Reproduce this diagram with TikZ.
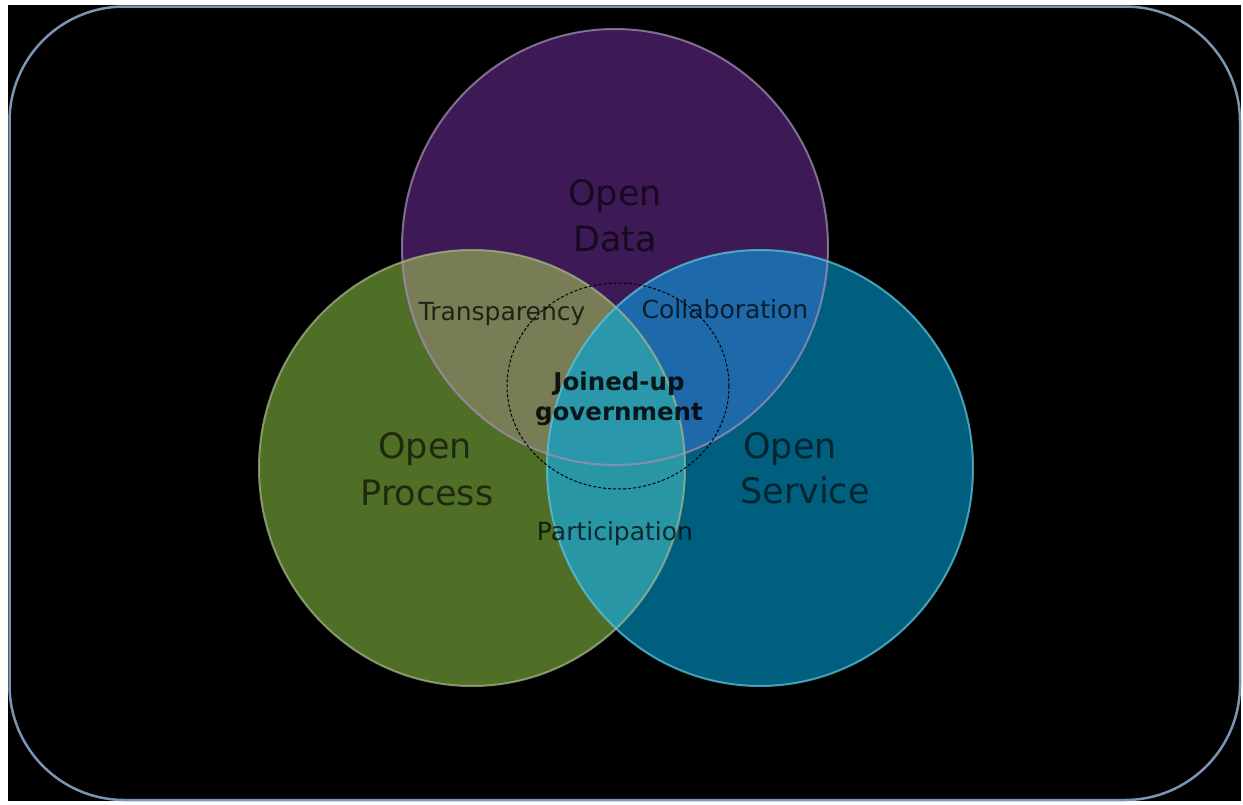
\documentclass[tikz,border=0pt]{standalone}
\usepackage{fontspec}
\setmainfont{DejaVu Sans}
\definecolor{framec}{HTML}{7A94B4}
\definecolor{purplec}{HTML}{3D1A55}
\definecolor{greenc}{HTML}{4F6E26}
\definecolor{bluec}{HTML}{005F7F}
\definecolor{pgc}{HTML}{787D55}
\definecolor{pbc}{HTML}{1E69AA}
\definecolor{gbc}{HTML}{2896A5}
\definecolor{pgbc}{HTML}{2A98AA}
\definecolor{pedge}{HTML}{A08EB4}
\definecolor{gedge}{HTML}{A4B488}
\definecolor{bedge}{HTML}{5EC4DA}
\tikzset{
  bigtext/.style={font=\fontsize{35}{46}\selectfont, text=black, text opacity=0.62, inner sep=0pt, anchor=base},
  smalltext/.style={font=\fontsize{25}{30}\selectfont, text=black, text opacity=0.72, inner sep=0pt, anchor=base},
  boldtext/.style={font=\fontsize{24.5}{30}\selectfont\bfseries, text=black, text opacity=0.85, inner sep=0pt, anchor=base},
  edge/.style={line width=2pt, draw opacity=0.75}
}
\begin{document}
\begin{tikzpicture}[x=1pt,y=-1pt]
\useasboundingbox (0,0) rectangle (1243,804);
\fill[white] (0,0) rectangle (1243,804);
\fill[black] (8,5) rectangle (1241,801);
\draw[framec, line width=2.5pt, rounded corners=115pt] (9.5,6.5) rectangle (1240,800);

\coordinate (pc) at (615,247);
\coordinate (gc) at (472,468);
\coordinate (bc) at (760,468);
\def\rx{213}\def\ry{218}

% base circles
\fill[purplec] (pc) ellipse [x radius=\rx, y radius=\ry];
\fill[greenc] (gc) ellipse [x radius=\rx, y radius=\ry];
\fill[bluec] (bc) ellipse [x radius=\rx, y radius=\ry];
% overlaps
\begin{scope}
  \clip (pc) ellipse [x radius=\rx, y radius=\ry];
  \fill[pgc] (gc) ellipse [x radius=\rx, y radius=\ry];
  \fill[pbc] (bc) ellipse [x radius=\rx, y radius=\ry];
\end{scope}
\begin{scope}
  \clip (gc) ellipse [x radius=\rx, y radius=\ry];
  \fill[gbc] (bc) ellipse [x radius=\rx, y radius=\ry];
  \clip (bc) ellipse [x radius=\rx, y radius=\ry];
  \fill[pgbc] (pc) ellipse [x radius=\rx, y radius=\ry];
\end{scope}
% edges
\draw[edge, pedge] (pc) ellipse [x radius=\rx, y radius=\ry];
\draw[edge, gedge] (gc) ellipse [x radius=\rx, y radius=\ry];
\draw[edge, bedge] (bc) ellipse [x radius=\rx, y radius=\ry];

% dashed inner ring
\coordinate (jc) at (618,386);
\draw[black, line width=1pt, dash pattern=on 3pt off 2pt] (jc) ellipse [x radius=111, y radius=103];

% labels
\node[bigtext] (od1) at (615,205) {Open};
\node[bigtext] (od2) at (615,251) {Data};
\node[bigtext] (op1) at (425,458) {Open};
\node[bigtext] (op2) at (427,505) {Process};
\node[bigtext] (os1) at (790,458) {Open};
\node[bigtext] (os2) at (805,503) {Service};

\node[smalltext] (tr) at (502,320) {Transparency};
\node[smalltext] (co) at (725,318) {Collaboration};
\node[smalltext] (pa) at (615,540) {Participation};

\node[boldtext] (jg1) at (619,390) {Joined-up};
\node[boldtext] (jg2) at (619,420) {government};
\end{tikzpicture}
\end{document}
